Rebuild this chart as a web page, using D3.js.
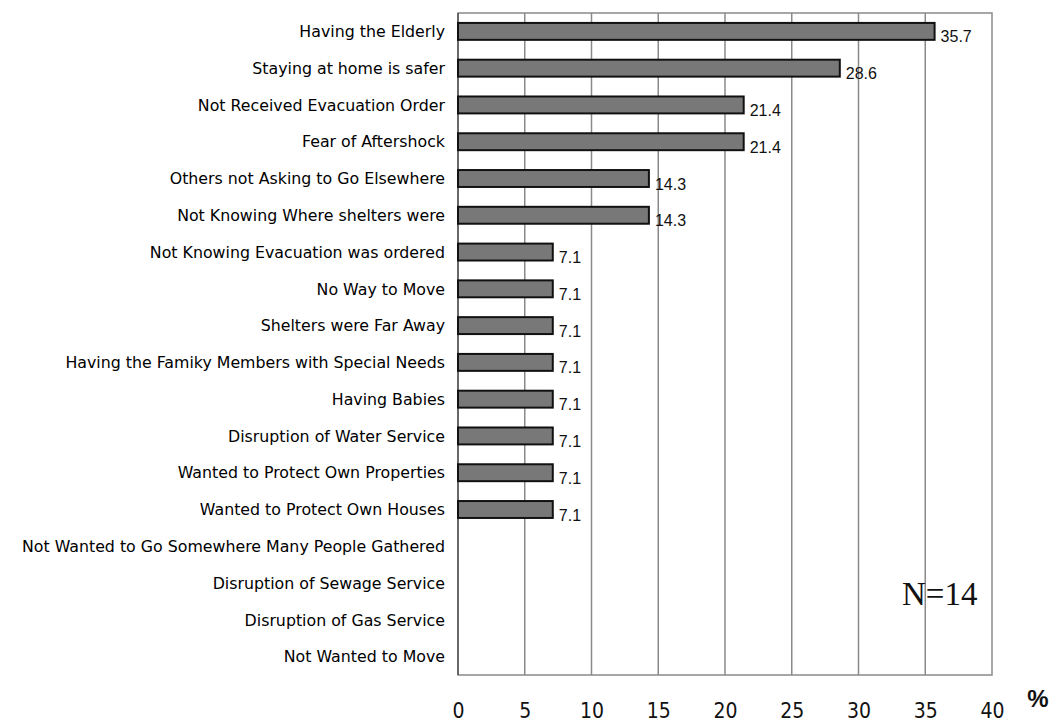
<!DOCTYPE html>
<html>
<head>
<meta charset="utf-8">
<script src="https://cdn.jsdelivr.net/npm/d3@7"></script>
<style>
  html, body { margin: 0; padding: 0; background: #fff; }
  svg { display: block; }
</style>
</head>
<body>
<svg id="chart" width="1056" height="724"></svg>
<script>
const categories = [
  "Having the Elderly",
  "Staying at home is safer",
  "Not Received Evacuation Order",
  "Fear of Aftershock",
  "Others not Asking to Go Elsewhere",
  "Not Knowing Where shelters were",
  "Not Knowing Evacuation was ordered",
  "No Way to Move",
  "Shelters were Far Away",
  "Having the Famiky Members with Special Needs",
  "Having Babies",
  "Disruption of Water Service",
  "Wanted to Protect Own Properties",
  "Wanted to Protect Own Houses",
  "Not Wanted to Go Somewhere Many People Gathered",
  "Disruption of Sewage Service",
  "Disruption of Gas Service",
  "Not Wanted to Move"
];
const values = [35.7, 28.6, 21.4, 21.4, 14.3, 14.3, 7.1, 7.1, 7.1, 7.1, 7.1, 7.1, 7.1, 7.1, 0, 0, 0, 0];
const xTicks = [0, 5, 10, 15, 20, 25, 30, 35, 40];
const sampleNote = "N=14";
const unitLabel = "%";

const svg = d3.select("#chart");
const m = { left: 458, right: 992, top: 13, bottom: 675 };

const x = d3.scaleLinear().domain([0, 40]).range([m.left, m.right]);
const y = d3.scaleBand().domain(categories).range([m.top, m.bottom]).paddingInner(0.54).paddingOuter(0.27);

// gridlines
svg.append("g")
  .selectAll("line")
  .data(xTicks.filter(d => d > 0 && d < 40))
  .join("line")
  .attr("x1", d => x(d)).attr("x2", d => x(d))
  .attr("y1", m.top).attr("y2", m.bottom)
  .attr("stroke", "#8a8a8a").attr("stroke-width", 1.5);

// plot border
svg.append("rect")
  .attr("x", m.left).attr("y", m.top)
  .attr("width", m.right - m.left).attr("height", m.bottom - m.top)
  .attr("fill", "none").attr("stroke", "#8a8a8a").attr("stroke-width", 1.5);

// left axis line
svg.append("line")
  .attr("x1", m.left).attr("x2", m.left)
  .attr("y1", m.top).attr("y2", m.bottom)
  .attr("stroke", "#555").attr("stroke-width", 1.5);

// bars
const rows = categories.map((c, i) => ({ c, v: values[i] }));
svg.append("g")
  .selectAll("rect")
  .data(rows.filter(d => d.v > 0))
  .join("rect")
  .attr("x", x(0))
  .attr("y", d => y(d.c))
  .attr("width", d => x(d.v) - x(0))
  .attr("height", y.bandwidth())
  .attr("fill", "#787878")
  .attr("stroke", "#111")
  .attr("stroke-width", 2);

// value labels
svg.append("g")
  .selectAll("text")
  .data(rows.filter(d => d.v > 0))
  .join("text")
  .attr("x", d => x(d.v) + 6)
  .attr("y", d => y(d.c) + y.bandwidth() / 2 + 11)
  .attr("font-family", "'Liberation Sans', Arial, sans-serif")
  .attr("font-size", 16)
  .attr("fill", "#111")
  .text(d => d.v.toFixed(1));

// category labels
svg.append("g")
  .selectAll("text")
  .data(categories)
  .join("text")
  .attr("x", m.left - 13)
  .attr("y", d => y(d) + y.bandwidth() / 2)
  .attr("dy", "0.36em")
  .attr("text-anchor", "end")
  .attr("font-family", "'DejaVu Sans', sans-serif")
  .attr("font-size", 15.8)
  .attr("fill", "#000")
  .text(d => d);

// x tick labels
const xAxis = d3.axisBottom(x).tickValues(xTicks).tickSize(0).tickPadding(0).tickFormat(d3.format("d"));
const gx = svg.append("g").attr("transform", `translate(0, 718)`).call(xAxis);
gx.select(".domain").remove();
gx.selectAll("text")
  .attr("dy", "0")
  .attr("font-family", "'Liberation Sans Narrow', 'DejaVu Sans Condensed', 'Liberation Sans', sans-serif")
  .attr("font-size", 21)
  .attr("fill", "#111");

// unit label
svg.append("text")
  .attr("x", 1038).attr("y", 707)
  .attr("text-anchor", "middle")
  .attr("font-family", "'Liberation Sans', Arial, sans-serif")
  .attr("font-size", 24)
  .attr("font-weight", "bold")
  .attr("fill", "#111")
  .text(unitLabel);

// N note
svg.append("text")
  .attr("x", 902).attr("y", 605)
  .attr("font-family", "'Liberation Serif', 'Times New Roman', serif")
  .attr("font-size", 33)
  .attr("fill", "#111")
  .text(sampleNote);
</script>
</body>
</html>
